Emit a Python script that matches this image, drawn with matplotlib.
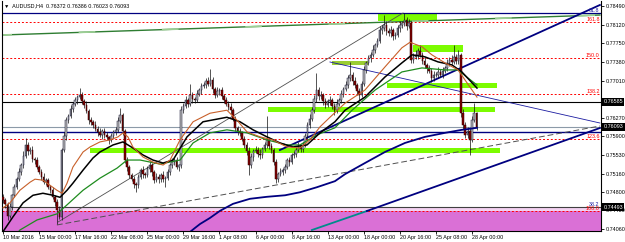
import numpy as np
import matplotlib
matplotlib.use('Agg')
import matplotlib.pyplot as plt

plt.rcParams['font.family'] = ['Liberation Sans', 'DejaVu Sans']

# AUDUSD H4 candles, prices in 1/10000 (7463 -> 0.7463)
open0 = 7470
closes = [7463, 7455, 7432, 7450, 7473, 7490, 7505, 7520, 7533, 7552,
          7573, 7560, 7563, 7545, 7543, 7530, 7520, 7510, 7500, 7503,
          7490, 7483, 7470, 7460, 7444, 7430, 7563, 7590, 7622, 7630,
          7645, 7655, 7662, 7668, 7672, 7660, 7652, 7640, 7622, 7618,
          7613, 7605, 7598, 7593, 7600, 7593, 7588, 7583, 7590, 7598,
          7603, 7620, 7632, 7600, 7543, 7530, 7513, 7505, 7495, 7493,
          7510, 7523, 7515, 7513, 7525, 7533, 7520, 7503, 7510, 7505,
          7513, 7505, 7507, 7520, 7533, 7540, 7543, 7530, 7533, 7642,
          7650, 7662, 7655, 7672, 7665, 7662, 7675, 7682, 7690, 7692,
          7700, 7695, 7702, 7685, 7672, 7680, 7682, 7670, 7662, 7655,
          7648, 7642, 7625, 7606, 7600, 7596, 7585, 7573, 7560, 7533,
          7550, 7560, 7563, 7555, 7553, 7565, 7573, 7583, 7570, 7563,
          7540, 7505, 7515, 7520, 7523, 7530, 7543, 7540, 7553, 7555,
          7563, 7570, 7565, 7573, 7590, 7613, 7625, 7642, 7665, 7682,
          7670, 7672, 7660, 7652, 7660, 7662, 7650, 7642, 7655, 7662,
          7675, 7685, 7692, 7705, 7712, 7700, 7692, 7680, 7672, 7695,
          7722, 7735, 7745, 7752, 7762, 7771, 7780, 7801, 7805, 7811,
          7800, 7795, 7801, 7790, 7791, 7805, 7811, 7815, 7821, 7810,
          7815, 7742, 7748, 7752, 7760, 7752, 7740, 7732, 7725, 7720,
          7706, 7712, 7712, 7718, 7712, 7720, 7726, 7735, 7742, 7738,
          7748, 7740, 7752, 7637, 7613, 7593, 7600, 7583, 7622, 7637, 7609]
up_wick = [6, 4, 5, 8, 3, 6, 4, 7, 5, 9,
           14, 6, 5, 8, 4, 6, 3, 5, 7, 4,
           5, 3, 6, 4, 5, 7, 4, 9, 6, 5,
           8, 4, 7, 5, 14, 6, 4, 8, 5, 6,
           4, 7, 5, 9, 4, 6, 5, 3, 7, 5,
           6, 8, 15, 5, 4, 6, 3, 5, 7, 4,
           6, 5, 8, 4, 6, 9, 5, 4, 7, 6,
           5, 8, 4, 6, 5, 7, 4, 6, 3, 8,
           6, 9, 5, 23, 6, 4, 8, 5, 7, 6,
           5, 8, 22, 6, 4, 9, 5, 7, 4, 6,
           5, 8, 4, 6, 5, 7, 4, 6, 5, 8,
           6, 4, 7, 5, 9, 4, 6, 47, 5, 7,
           4, 6, 5, 8, 4, 6, 5, 7, 4, 6,
           5, 8, 4, 6, 7, 5, 9, 6, 8, 34,
           6, 9, 5, 7, 4, 8, 5, 6, 9, 5,
           7, 4, 8, 6, 25, 5, 7, 4, 6, 5,
           8, 5, 7, 6, 9, 5, 6, 8, 7, 20,
           9, 6, 8, 5, 7, 6, 9, 5, 14, 6,
           8, 4, 7, 9, 6, 11, 5, 7, 4, 6,
           5, 8, 6, 9, 5, 7, 4, 8, 6, 9,
           23, 6, 9, 4, 7, 5, 8, 6, 9, 20, 1]
dn_wick = [5, 7, 8, 4, 6, 3, 5, 4, 6, 5,
           4, 7, 5, 6, 8, 4, 5, 6, 4, 7,
           5, 6, 4, 8, 28, 5, 6, 4, 7, 5,
           4, 6, 5, 7, 4, 6, 5, 4, 8, 5,
           6, 4, 7, 5, 8, 6, 4, 9, 5, 4,
           6, 5, 4, 7, 5, 8, 6, 4, 7, 13,
           5, 4, 7, 6, 4, 5, 8, 6, 4, 7,
           5, 6, 15, 4, 7, 5, 6, 4, 8, 5,
           6, 4, 7, 5, 8, 6, 4, 5, 7, 4,
           6, 5, 4, 8, 6, 4, 7, 5, 6, 4,
           5, 7, 4, 6, 8, 5, 4, 7, 6, 20,
           5, 8, 4, 6, 7, 5, 4, 6, 5, 7,
           6, 8, 5, 4, 7, 6, 5, 8, 4, 6,
           5, 4, 7, 6, 4, 5, 6, 4, 5, 6,
           7, 5, 8, 6, 4, 7, 5, 9, 6, 4,
           5, 7, 4, 6, 5, 8, 6, 7, 9, 4,
           5, 6, 4, 7, 5, 6, 4, 5, 7, 6,
           8, 5, 7, 9, 6, 4, 7, 5, 6, 8,
           5, 7, 6, 4, 8, 5, 7, 6, 9, 5,
           8, 6, 5, 7, 4, 6, 5, 7, 6, 4,
           5, 7, 6, 8, 9, 7, 6, 30, 5, 4, 7]

# moving averages (bar index, price/10000)
fast_x = [0, 3.1, 7.5, 12, 14.2, 17.7, 20.8, 23.9, 26.2, 28.4, 31, 35.5, 38.6, 43, 47.5,
          51, 53.2, 55.4, 57.6, 62.1, 66.5, 71, 74.1, 78.5, 84.3, 91.8, 99.3, 103.8, 108.2, 114,
          119.7, 125.9, 131.7, 136.1, 140.6, 145, 151.7, 160.5, 169.4, 176.9, 180.5, 185.8, 190.2,
          196, 201.8, 204.9, 210.2]
fast_y = [7448, 7458, 7483, 7499, 7505, 7503, 7493, 7483, 7477, 7497, 7529, 7559, 7569, 7579, 7583,
          7589, 7597, 7589, 7569, 7549, 7539, 7533, 7543, 7583, 7619, 7636, 7642, 7622, 7599, 7589,
          7583, 7569, 7567, 7583, 7609, 7628, 7656, 7682, 7728, 7766, 7777, 7768, 7752,
          7736, 7722, 7702, 7668]
mid_x = [-0.4, 4.4, 8.9, 13.3, 17.7, 22.2, 25.3, 28.4, 31, 35.5, 39.9, 43, 48.8, 53.2, 57.6, 62.1,
         66.5, 71, 75.4, 81.6, 88.7, 99.3, 105.1, 110.9, 117.1, 122.8, 128.6, 134.8, 140.6, 147.2,
         151.7, 160.5, 169.4, 176.9, 181.4, 187.1, 192.9, 199.1, 203.5, 210.2]
mid_y = [7398, 7430, 7458, 7473, 7477, 7473, 7469, 7483, 7497, 7523, 7547, 7559, 7573, 7579, 7567, 7553,
         7543, 7537, 7543, 7589, 7619, 7628, 7619, 7603, 7589, 7577, 7569, 7573, 7597, 7619,
         7642, 7668, 7708, 7736, 7752, 7748, 7738, 7732, 7718, 7686]
slow_x = [5.3, 7.5, 15.1, 23.9, 28.4, 35.5, 43, 50.6, 55, 60.8, 69.6, 78.5, 84.3, 91.8, 99.3,
          108.2, 117.1, 125.9, 131.7, 139.2, 147.2, 154.8, 165, 176.9, 185.8, 196, 201.8, 206.2, 210.2]
slow_y = [7392, 7404, 7424, 7436, 7454, 7483, 7507, 7527, 7543, 7543, 7535, 7543, 7577, 7597, 7603,
          7597, 7583, 7573, 7573, 7593, 7607, 7642, 7682, 7718, 7726, 7722, 7722, 7706, 7692]
long_x = [80.7, 85.1, 87.4, 91.8, 96.2, 102, 109.5, 117.1, 125.1, 131.7, 139.2, 147.2, 151.7,
          160.5, 169.4, 178.3, 187.1, 196, 203.5, 210.2]
long_y = [7392, 7408, 7416, 7428, 7442, 7456, 7466, 7470, 7473, 7479, 7489, 7501, 7515,
          7537, 7559, 7577, 7589, 7597, 7603, 7607]

# horizontal levels
fibo_levels = [0.7817, 0.7745, 0.7674, 0.7585, 0.7442]
fibo_names = ['161.8', '150.0', '138.2', '123.6', '100.0']
top_level = 0.78351
resist_level = 0.76585
bid_level = 0.76093
mid_level = 0.7599
low_level = 0.74493

# zones: start bar, end bar, low price, high price
zones = [(166.3, 192.5, 0.7819, 0.7833),
         (181.8, 204.0, 0.7758, 0.7772),
         (170.3, 219.1, 0.7686, 0.7696),
         (117.5, 218.2, 0.7638, 0.7648),
         (38.6, 220.4, 0.7557, 0.7567)]
olive_zone = (145.9, 161.9, 0.7732, 0.7740)

# trend lines: (bar0, price0, bar1, price1)
thin_black = (24.4, 0.74199, 177.4, 0.78351)
dashed_line = (23.9, 0.74140, 264.7, 0.76106)
green_line = (-0.44, 0.77914, 264.7, 0.78311)
upper_chan = (122.8, 0.75629, 264.7, 0.78510)
lower_teal = (137.0, 0.74040, 161.4, 0.74418)
lower_chan = (161.4, 0.74418, 264.7, 0.76066)
thin_navy = (145.0, 0.77378, 264.7, 0.76166)

date_pos = [0, 16, 32, 48, 64, 80, 96, 112, 128, 144, 160, 176, 192, 208]
date_lbl = ['10 Mar 2016', '15 Mar 00:00', '17 Mar 16:00', '22 Mar 08:00', '25 Mar 00:00',
            '29 Mar 16:00', '1 Apr 08:00', '6 Apr 00:00', '8 Apr 16:00', '13 Apr 00:00',
            '18 Apr 00:00', '20 Apr 16:00', '25 Apr 08:00', '28 Apr 00:00']
price_ticks = [0.78490, 0.78120, 0.77750, 0.77380, 0.77010, 0.76270, 0.75900,
               0.75530, 0.75160, 0.74800, 0.74430, 0.74060]

c = np.array(closes) / 1e4
o = np.r_[open0 / 1e4, c[:-1]]
hi = np.maximum(o, c) + np.array(up_wick) / 1e4
lo = np.minimum(o, c) - np.array(dn_wick) / 1e4
idx = np.arange(len(c))

fs = 3.9
fig = plt.figure(figsize=(6.25, 2.42), dpi=100)
ax = fig.add_axes([2 / 625, 11 / 242, 599 / 625, 230 / 242])
ax.set_xlim(-0.443, 265.2)
ax.set_ylim(0.740204, 0.785893)

# background areas
ax.axhspan(0.7402, 0.7442, color='#da70d6', lw=0, zorder=0)
ax.axhspan(0.7442, low_level, color='#f3d2f1', lw=0, zorder=0)
for x0, x1, p0, p1 in zones:
    ax.fill_between([x0, x1], p0, p1, color='#7cfc00', lw=0, zorder=1)
ax.fill_between([olive_zone[0], olive_zone[1]], olive_zone[2], olive_zone[3],
                color='#9acd32', lw=0, zorder=1)

# horizontal lines
for lv in fibo_levels:
    ax.axhline(lv, color='red', lw=0.7, ls=(0, (2, 2)), zorder=2)
ax.axhline(top_level, color='#000080', lw=0.9, zorder=2)
ax.axhline(resist_level, color='black', lw=0.8, zorder=2)
ax.axhline(bid_level, color='#8c9aa8', lw=0.8, zorder=2)
ax.axhline(mid_level, color='#000080', lw=1.0, zorder=2)
ax.axhline(low_level, color='#404040', lw=0.8, zorder=2)

# trend lines
def tline(t, **kw):
    ax.plot([t[0], t[2]], [t[1], t[3]], **kw)

tline(green_line, color='#2e7d32', lw=1.0, zorder=2)
tline(green_line, color='#9ccf94', lw=1.2, ls=(4, (10, 40)), zorder=2)
tline(thin_black, color='#505050', lw=0.6, zorder=2)
tline(dashed_line, color='#505050', lw=0.7, ls=(0, (6, 3)), zorder=2)
tline(upper_chan, color='#000080', lw=1.3, zorder=3)
tline(lower_teal, color='#008b8b', lw=1.3, zorder=3)
tline(lower_chan, color='#000080', lw=1.3, zorder=3)
tline(thin_navy, color='#1a1aa0', lw=0.6, zorder=3)

# candles
bull = c >= o
ax.vlines(idx, lo, hi, color='#101010', lw=0.5, zorder=4)
ax.bar(idx[bull], (c - o)[bull], bottom=o[bull], width=0.7, color='#b8b8b8',
       edgecolor='#101030', lw=0.35, zorder=5)
ax.bar(idx[~bull], (o - c)[~bull], bottom=c[~bull], width=0.7, color='#800000',
       edgecolor='#300000', lw=0.35, zorder=5)

# moving averages
ax.plot(long_x, np.array(long_y) / 1e4, color='#000080', lw=1.3, zorder=6)
ax.plot(slow_x, np.array(slow_y) / 1e4, color='#1e8c1e', lw=0.9, zorder=6)
ax.plot(mid_x, np.array(mid_y) / 1e4, color='black', lw=1.1, zorder=6)
ax.plot(fast_x, np.array(fast_y) / 1e4, color='#c8602a', lw=0.8, zorder=6)

# level labels
for lv, nm in zip(fibo_levels, fibo_names):
    ax.text(264.6, lv, nm, color='red', fontsize=fs, ha='right', va='bottom', zorder=7)
ax.text(264.6, top_level, '61.8', color='#1a1aa0', fontsize=fs, ha='right', va='bottom', zorder=7)
ax.text(264.6, low_level, '38.2', color='#1a1aa0', fontsize=fs, ha='right', va='bottom', zorder=7)

# axes styling
ax.spines['top'].set_visible(False)
for s in ['left', 'right', 'bottom']:
    ax.spines[s].set_linewidth(0.8)
ax.yaxis.tick_right()
ax.set_yticks(price_ticks)
ax.set_yticklabels(['%.5f' % v for v in price_ticks])
ax.tick_params(axis='y', length=2, width=0.6, pad=1.5, labelsize=fs)
ax.set_xticks(date_pos)
ax.set_xticklabels(date_lbl, ha='left')
ax.tick_params(axis='x', length=2, width=0.6, pad=1, labelsize=fs)

for pv in [resist_level, bid_level, low_level]:
    ax.text(1.004, pv, '%.5f' % pv, transform=ax.get_yaxis_transform(), fontsize=fs,
            color='white', ha='left', va='center', clip_on=False, zorder=10,
            bbox=dict(boxstyle='square,pad=0.25', fc='black', ec='none'))

fig.text(4 / 625, 1 - 6 / 242, '\u25bc  AUDUSD,H4  0.76372 0.76386 0.76023 0.76093',
         fontsize=fs, va='center', ha='left')

fig.savefig('out.png', dpi=100)
